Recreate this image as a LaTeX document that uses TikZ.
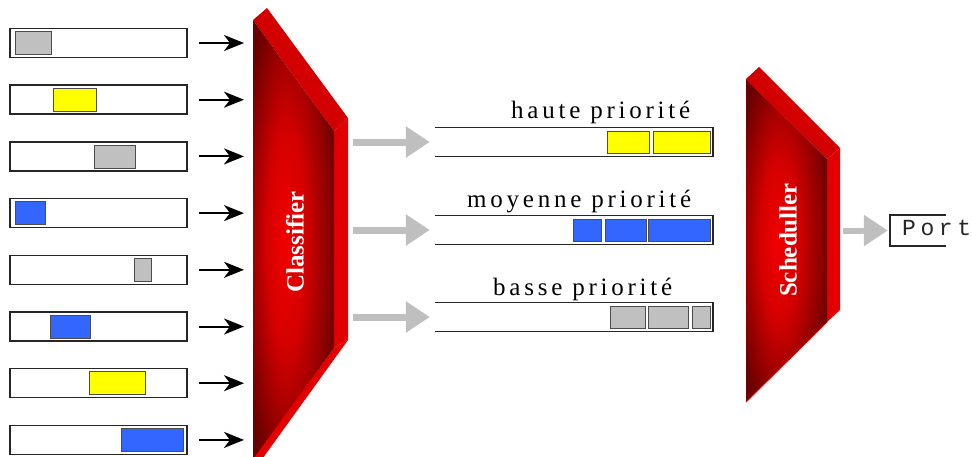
\documentclass[tikz,border=0pt]{standalone}
\usepackage{fontspec}
\setmainfont{Liberation Serif}
\newfontfamily\prioFont[LetterSpace=15]{Liberation Serif}
\newfontfamily\portFont[LetterSpace=20]{Liberation Mono}
\usepackage{tikz}
\usetikzlibrary{positioning,arrows.meta,calc}
\definecolor{pgray}{HTML}{C0C0C0}
\definecolor{pyellow}{HTML}{FFFF00}
\definecolor{pblue}{HTML}{3366FF}
\definecolor{rdark}{HTML}{6A0000}
\definecolor{rlight}{HTML}{F00000}
\definecolor{rtop}{HTML}{D20000}
\definecolor{rside}{HTML}{E20000}
\pgfdeclareradialshading{redface}{\pgfpoint{-6bp}{0bp}}{color(0bp)=(rlight); color(12bp)=(rlight!80!rdark); color(30bp)=(rdark); color(50bp)=(rdark)}

\begin{document}
\begin{tikzpicture}[x=1pt,y=-1pt, inq/.style={draw=black!85,line width=1.5pt,minimum width=177pt,minimum height=29pt,inner sep=0pt},
  pkt/.style={draw=black!70,line width=0.8pt,inner sep=0pt}, outq/.style={minimum width=278pt,minimum height=29pt,inner sep=0pt},
  qline/.style={draw=black!85,line width=1.5pt}, prio/.style={font=\prioFont\fontsize{25}{25}\selectfont,anchor=base west,inner sep=0pt},
  proc/.style={text=white,font=\bfseries\fontsize{25}{30}\selectfont,rotate=90},
  inarr/.style={line width=2pt,-{Stealth[length=20pt,width=16pt,inset=6pt]}},
  garr/.style={draw=black!25,line width=7pt,-{Triangle[length=24pt,width=30pt]}}]
  \useasboundingbox (0,0) rectangle (972,456);
  \coordinate (clsL) at (253,0); \coordinate (clsR) at (348,0);
  \coordinate (schR) at (840,0);

  % classifier block
  \fill[rtop] (253,20) -- (267,8) -- (348,118) -- (334,131) -- cycle;
  \fill[rside] (334,131) -- (348,118) -- (348,340) -- (334,348) -- cycle;
  \fill[rside] (334,348) -- (348,340) -- (260,462) -- (250,462) -- cycle;
  \shade[shading=redface] (253,20) -- (334,131) -- (334,348) -- (253,459) -- cycle;
  \node[proc] (cls) at (295,242) {Classifier};

  % input queues
  \foreach \i/\a/\b/\c in {1/15/51/pgray,2/53/96/pyellow,3/94/135/pgray,4/15/45/pblue,
      5/134/151/pgray,6/50/90/pblue,7/89/145/pyellow,8/121/183/pblue}{
    \pgfmathsetmacro\yy{43+(\i-1)*56.7}
    \node[inq] (q\i) at (98.5,\yy) {};
    \node[pkt,fill=\c,minimum width={\b-\a},minimum height=23pt] (p\i) at ({(\a+\b)/2},\yy) {};
    \draw[inarr,shorten <=11pt,shorten >=9pt] (q\i.east) -- (q\i.east -| clsL);
  }

  % priority queues
  \node[outq] (hq) at (574,142) {};
  \node[outq] (mq) at (574,230) {};
  \node[outq] (bq) at (574,317) {};
  \foreach \q in {hq,mq,bq}{
    \draw[qline] (\q.north west) -- (\q.north east) -- (\q.south east) -- (\q.south west);
    \draw[garr,shorten <=5pt,shorten >=5pt] (clsR |- \q.west) -- (\q.west);
  }
  \node[prio] (hl) at (511,118) {haute priorité};
  \node[prio] (ml) at (467,207) {moyenne priorité};
  \node[prio] (bl) at (493,295) {basse priorité};
  \foreach \q/\a/\b/\c in {hq/607/649/pyellow,hq/653/710/pyellow,mq/573/601/pblue,mq/605/646/pblue,
      mq/648/710/pblue,bq/610/645/pgray,bq/648/688/pgray,bq/692/710/pgray}
    \node[pkt,fill=\c,minimum width={\b-\a},minimum height=22pt] at ({(\a+\b)/2},0 |- \q) {};

  % scheduler block
  \fill[rtop] (746,79) -- (759,67) -- (840,148) -- (827,159) -- cycle;
  \fill[rside] (827,159) -- (840,148) -- (840,310) -- (827,322) -- cycle;
  \shade[shading=redface] (746,79) -- (827,159) -- (827,322) -- (746,402) -- cycle;
  \draw[rside,line width=1pt] (827,322) -- (746,402);
  \node[proc] (sch) at (788,240) {Scheduller};

  % output port
  \node[minimum width=56pt,minimum height=31pt,inner sep=0pt] (port) at (918,230.5) {};
  \draw[qline] (port.north east) -- (port.north west) -- (port.south west) -- (port.south east);
  \node[font=\portFont\fontsize{23}{23}\selectfont,anchor=base west,inner sep=0pt,text=black!85] (pl) at (902,235) {Port};
  \draw[garr,line width=6pt,shorten <=3pt,shorten >=2pt] (schR |- port.west) -- (port.west);
\end{tikzpicture}
\end{document}
